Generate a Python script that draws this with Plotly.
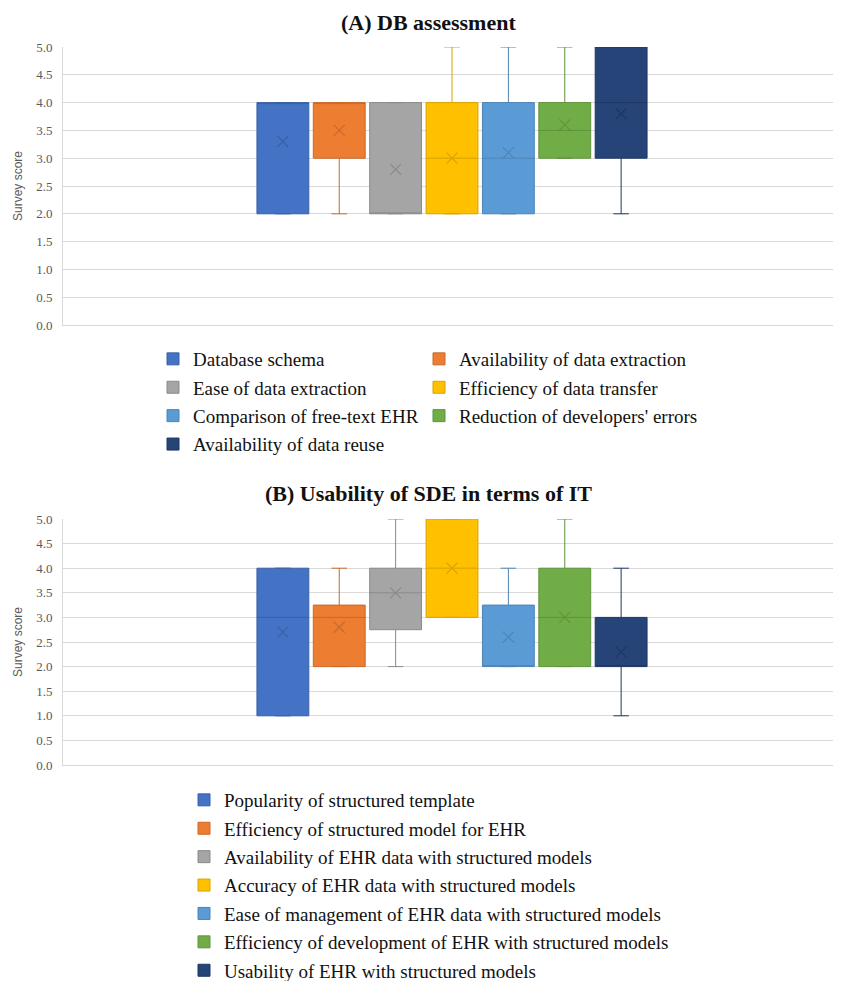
import plotly.graph_objects as go

# ---------------- data ----------------
colors = ["#4472C4", "#ED7D31", "#A5A5A5", "#FFC000", "#5B9BD5", "#70AD47", "#264478"]
dark = ["#3A61A7", "#C9692A", "#8A8A8A", "#D9A300", "#4D84B5", "#5F933C", "#1E3762"]

a_names = ["Database schema", "Availability of data extraction", "Ease of data extraction",
           "Efficiency of data transfer", "Comparison of free-text EHR",
           "Reduction of developers' errors", "Availability of data reuse"]
a_low = [2, 2, 2, 2, 2, 3, 2]
a_q1 = [2, 3, 2, 2, 2, 3, 3]
a_med = [4, 4, 2, 3, 3, 3.5, 4]
a_q3 = [4, 4, 4, 4, 4, 4, 5]
a_high = [4, 4, 4, 5, 5, 5, 5]
a_mean = [3.3, 3.5, 2.8, 3.0, 3.1, 3.6, 3.8]

b_names = ["Popularity of structured template", "Efficiency of structured model for EHR",
           "Availability of EHR data with structured models",
           "Accuracy of EHR data with structured models",
           "Ease of management of EHR data with structured models",
           "Efficiency of development of EHR with structured models",
           "Usability of EHR with structured models"]
b_low = [1, 2, 2, 3, 2, 2, 1]
b_q1 = [1, 2, 2.75, 3, 2, 2, 2]
b_med = [3, 3, 3.5, 4, 2, 3, 2]
b_q3 = [4, 3.25, 4, 5, 3.25, 4, 3]
b_high = [4, 4, 5, 5, 4, 5, 4]
b_mean = [2.7, 2.8, 3.5, 4.0, 2.6, 3.0, 2.3]

y_ticks = [0, 0.5, 1, 1.5, 2, 2.5, 3, 3.5, 4, 4.5, 5]
y_ticktext = ["0.0", "0.5", "1.0", "1.5", "2.0", "2.5", "3.0", "3.5", "4.0", "4.5", "5.0"]

fig = go.Figure()

def add_panel(names, low, q1, med, q3, high, mean, xa, ya, legends):
    for i, nm in enumerate(names):
        fig.add_trace(go.Box(
            x=[i], q1=[q1[i]], median=[med[i]], q3=[q3[i]],
            lowerfence=[low[i]], upperfence=[high[i]],
            name=nm, width=0.92, whiskerwidth=0.3,
            fillcolor=colors[i], line=dict(color=dark[i], width=1),
            boxpoints=False, xaxis=xa, yaxis=ya,
            legend=legends[i], legendgroup=f"{xa}{i}",
            hoverinfo="skip"))
        fig.add_trace(go.Scatter(
            x=[i], y=[mean[i]], mode="markers", showlegend=False,
            marker=dict(symbol="x-thin", size=11, line=dict(color=dark[i], width=1.2)),
            xaxis=xa, yaxis=ya, hoverinfo="skip"))

add_panel(a_names, a_low, a_q1, a_med, a_q3, a_high, a_mean, "x", "y",
          ["legend", "legend2", "legend", "legend2", "legend", "legend2", "legend"])
add_panel(b_names, b_low, b_q1, b_med, b_q3, b_high, b_mean, "x2", "y2",
          ["legend3"] * 7)

W, H = 833.0, 973.0   # page body adds an 8px offset
L = 55.0
PW = W - L

def py(px):
    return 1 - px / H

def pxp(px):
    return (px - L) / PW

xcommon = dict(range=[-3.9, 9.9], showgrid=False, zeroline=False, showticklabels=False,
               ticks="", showline=True, linecolor="#d9d9d9", linewidth=1, fixedrange=True)
ycommon = dict(range=[0, 5], tickvals=y_ticks, ticktext=y_ticktext, showgrid=True,
               gridcolor="#d9d9d9", gridwidth=1, zeroline=False, showline=True,
               linecolor="#d9d9d9", linewidth=1, ticks="", ticklabelstandoff=7,
               tickfont=dict(family="Liberation Serif", size=13, color="#595959"))

legfont = dict(family="Liberation Serif", size=19, color="#111111")
legcommon = dict(orientation="v", xref="container", yref="container", xanchor="left",
                 yanchor="top", font=legfont, bgcolor="rgba(0,0,0,0)", traceorder="grouped",
                 tracegroupgap=0.7, itemclick=False, itemdoubleclick=False)

ytitle_font = dict(family="Liberation Sans", size=12, color="#595959")
title_font = dict(family="Liberation Serif", size=22, color="#111111")

fig.update_layout(
    width=W, height=H,
    margin=dict(l=L, r=0, t=0, b=0, autoexpand=False),
    paper_bgcolor="white", plot_bgcolor="white",
    showlegend=True,
    xaxis=dict(domain=[0, 1], anchor="y", **xcommon),
    yaxis=dict(domain=[py(317), py(39)], anchor="x", **ycommon),
    xaxis2=dict(domain=[0, 1], anchor="y2", **xcommon),
    yaxis2=dict(domain=[py(757), py(511)], anchor="x2", **ycommon),
    legend=dict(x=145 / W, y=py(332), **legcommon),
    legend2=dict(x=411 / W, y=py(332), **legcommon),
    legend3=dict(x=176 / W, y=py(773), **legcommon),
    annotations=[
        dict(text="<b>(A) DB assessment</b>", xref="paper", yref="paper",
             x=pxp(420), y=py(15), showarrow=False, xanchor="center", yanchor="middle",
             font=title_font),
        dict(text="<b>(B) Usability of SDE in terms of IT</b>", xref="paper", yref="paper",
             x=pxp(420), y=py(485), showarrow=False, xanchor="center", yanchor="middle",
             font=title_font),
        dict(text="Survey score", xref="paper", yref="paper", textangle=-90,
             x=pxp(10), y=py((317 + 39) / 2), showarrow=False, xanchor="center",
             yanchor="middle", font=ytitle_font),
        dict(text="Survey score", xref="paper", yref="paper", textangle=-90,
             x=pxp(10), y=py((757 + 511) / 2), showarrow=False, xanchor="center",
             yanchor="middle", font=ytitle_font),
    ],
)

fig.write_html("out.html")
